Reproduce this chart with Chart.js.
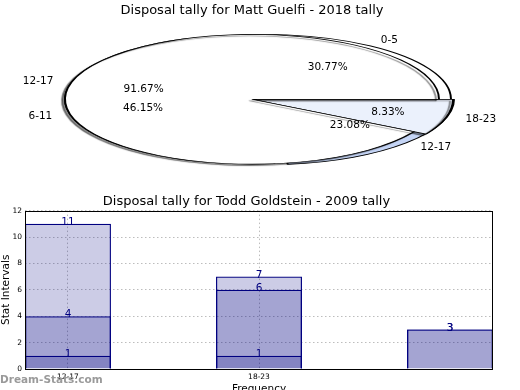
<!DOCTYPE html>
<html>
<head>
<meta charset="utf-8">
<script src="https://cdn.jsdelivr.net/npm/chart.js@4.4.1/dist/chart.umd.min.js"></script>
<style>
  html, body { margin: 0; padding: 0; background: #fff; overflow: hidden; }
  body { width: 520px; height: 390px; position: relative; }
  #pie { position: absolute; left: 0; top: 0; }
  #bars { position: absolute; left: 0; top: 190px; }
  .watermark {
    position: absolute; left: 0; top: 373px;
    font: bold 10.5px 'DejaVu Sans', sans-serif; color: #9a9a9a;
  }
</style>
</head>
<body>
<canvas id="pie" width="520" height="190"></canvas>
<canvas id="bars" width="520" height="215"></canvas>
<div class="watermark">Dream-Stats.com</div>
<script>
// Matt Guelfi - two pies drawn on top of each other
const pieTitle = 'Disposal tally for Matt Guelfi - 2018 tally';
const frontLabels = ['12-17', '18-23'];
const frontCounts = [11, 1];
const backLabels = ['0-5', '6-11', '12-17'];
const backCounts = [4, 6, 3];

// Todd Goldstein - overlapping bars
const barTitle = 'Disposal tally for Todd Goldstein - 2009 tally';
const barCategories = ['12-17', '18-23', ''];
const barsTall = [11, 7, 3];
const barsMid = [4, 6, 3];
const barsLow = [1, 1, null];

const FONT = 'DejaVu Sans';
const SQUASH = 0.347; // pie drawn as a flat oval

// slice styles, same order as the labels above
const frontStyle = {
  colors: ['#ffffff', '#ebf1fc'],
  radius: [187, 201],
  shift: [0, 0],
  pctDist: [0.6, 0.7],
};
const backStyle = {
  colors: ['#ffffff', '#ffffff', '#c5d5f6'],
  radius: [187, 187, 189],
  shift: [12, 0, 13],
  pctDist: [0.6, 0.6, 0.6],
};

// chart.js goes clockwise, the original goes counter clockwise from 3 o'clock
function ccw(arr) {
  return arr.slice().reverse();
}

const pieLayers = [
  {labels: ccw(frontLabels), counts: ccw(frontCounts), radius: ccw(frontStyle.radius),
    shift: ccw(frontStyle.shift), pctDist: ccw(frontStyle.pctDist), shadow: true},
  {labels: ccw(backLabels), counts: ccw(backCounts), radius: ccw(backStyle.radius),
    shift: ccw(backStyle.shift), pctDist: ccw(backStyle.pctDist), shadow: false},
];

function pieCenter(chart) {
  const a = chart.chartArea;
  return {x: (a.left + a.right) / 2, y: (a.top + a.bottom) / 2};
}

const ovalPie = {
  id: 'ovalPie',
  afterDatasetsUpdate(chart) {
    const c = pieCenter(chart);
    pieLayers.forEach((layer, di) => {
      chart.getDatasetMeta(di).data.forEach((arc, i) => {
        arc.innerRadius = 0;
        arc.outerRadius = layer.radius[i];
        arc.x = c.x + layer.shift[i];
        arc.y = c.y;
      });
    });
  },
  beforeDatasetsDraw(chart) {
    const ctx = chart.ctx;
    const c = pieCenter(chart);
    ctx.save();
    ctx.translate(c.x, c.y);
    ctx.scale(1, SQUASH);
    ctx.translate(-c.x, -c.y);
  },
  afterDatasetsDraw(chart) {
    chart.ctx.restore();
  },
  beforeDatasetDraw(chart, args) {
    if (pieLayers[args.index].shadow) {
      const ctx = chart.ctx;
      ctx.shadowColor = 'rgba(0, 0, 0, 0.45)';
      ctx.shadowOffsetX = -3;
      ctx.shadowOffsetY = 1.5;
      ctx.shadowBlur = 1;
    }
  },
  afterDatasetDraw(chart) {
    chart.ctx.shadowColor = 'transparent';
  },
  afterDraw(chart) {
    const ctx = chart.ctx;
    const c = pieCenter(chart);
    ctx.save();
    ctx.fillStyle = '#000';
    ctx.font = `10.5px ${FONT}`;
    ctx.textBaseline = 'middle';
    pieLayers.forEach((layer, di) => {
      const total = layer.counts.reduce((s, v) => s + v, 0);
      chart.getDatasetMeta(di).data.forEach((arc, i) => {
        const mid = (arc.startAngle + arc.endAngle) / 2;
        const r = arc.outerRadius;
        const at = (d) => ({
          x: arc.x + Math.cos(mid) * r * d,
          y: c.y + Math.sin(mid) * r * d * SQUASH,
        });
        const lab = at(1.1);
        ctx.textAlign = Math.cos(mid) > 0 ? 'left' : 'right';
        ctx.fillText(layer.labels[i], lab.x, lab.y);
        const pct = at(layer.pctDist[i]);
        ctx.textAlign = 'center';
        ctx.fillText((layer.counts[i] / total * 100).toFixed(2) + '%', pct.x, pct.y);
      });
    });
    ctx.restore();
  },
};

new Chart(document.getElementById('pie'), {
  type: 'pie',
  data: {
    labels: pieLayers[0].labels,
    datasets: [
      {data: pieLayers[0].counts, backgroundColor: ccw(frontStyle.colors)},
      {data: pieLayers[1].counts, backgroundColor: ccw(backStyle.colors)},
    ],
  },
  options: {
    responsive: false,
    animation: false,
    events: [],
    rotation: 90,
    borderColor: '#000',
    borderWidth: 2,
    layout: {padding: {left: 0, right: 16, top: 0, bottom: 13}},
    plugins: {
      legend: {display: false},
      tooltip: {enabled: false},
      title: {
        display: true,
        text: pieTitle,
        color: '#000',
        font: {family: FONT, size: 13, weight: 'normal'},
        padding: {top: 3, bottom: 3},
      },
    },
  },
  plugins: [ovalPie],
});

// bottom chart
const barFrame = {
  id: 'barFrame',
  afterDatasetsDraw(chart) {
    const ctx = chart.ctx;
    const a = chart.chartArea;
    ctx.save();
    // value on each bar
    ctx.fillStyle = '#000080';
    ctx.font = `10.5px ${FONT}`;
    ctx.textAlign = 'center';
    ctx.textBaseline = 'middle';
    chart.data.datasets.forEach((ds, di) => {
      chart.getDatasetMeta(di).data.forEach((bar, i) => {
        const v = ds.data[i].y;
        if (v === null) return;
        ctx.fillText(String(v), bar.x, bar.y - 1.5);
      });
    });
    ctx.strokeStyle = '#000';
    ctx.lineWidth = 1;
    ctx.strokeRect(Math.round(a.left) + 0.5, Math.round(a.top) + 0.5,
        Math.round(a.right - a.left) - 1, Math.round(a.bottom - a.top));
    ctx.restore();
  },
};

const gridStyle = {color: '#bdbdbd', lineWidth: 1, drawTicks: false, offset: false};

new Chart(document.getElementById('bars'), {
  type: 'bar',
  data: {
    datasets: [barsTall, barsMid, barsLow].map((vals) => ({
      data: vals.map((v, i) => ({x: i, y: v})),
      backgroundColor: 'rgba(0, 0, 128, 0.2)',
      borderColor: '#000080',
      borderWidth: 1.2,
    })),
  },
  options: {
    responsive: false,
    animation: false,
    events: [],
    grouped: false,
    categoryPercentage: 1,
    barPercentage: 0.45,
    layout: {padding: {left: 0, right: 27, top: 0, bottom: 0}},
    scales: {
      x: {
        type: 'linear',
        offset: false,
        min: -0.225,
        max: 2.225,
        afterBuildTicks(scale) {
          scale.ticks = barCategories
              .map((c, i) => ({value: i, label: c}))
              .filter((t) => t.label);
        },
        afterFit(scale) {
          scale.height = 36;
        },
        grid: gridStyle,
        border: {display: false, dash: [1.5, 2.5]},
        ticks: {
          color: '#000',
          padding: 4,
          font: {family: FONT, size: 7.5},
          callback: (v) => barCategories[v],
        },
        title: {
          display: true,
          text: 'Frequency',
          color: '#000',
          font: {family: FONT, size: 10.5},
          padding: {top: 0, bottom: 9},
        },
      },
      y: {
        min: 0,
        max: 12,
        afterFit(scale) {
          scale.width = 25;
        },
        grid: gridStyle,
        border: {display: false, dash: [1.5, 2.5]},
        ticks: {
          stepSize: 2,
          color: '#000',
          padding: 3,
          font: {family: FONT, size: 7.5},
        },
        title: {
          display: true,
          text: 'Stat Intervals',
          color: '#000',
          font: {family: FONT, size: 10.5},
          padding: 0,
        },
      },
    },
    plugins: {
      legend: {display: false},
      tooltip: {enabled: false},
      title: {
        display: true,
        text: barTitle,
        color: '#000',
        font: {family: FONT, size: 13, weight: 'normal'},
        padding: {top: 4, bottom: 1},
      },
    },
  },
  plugins: [barFrame],
});
</script>
</body>
</html>
